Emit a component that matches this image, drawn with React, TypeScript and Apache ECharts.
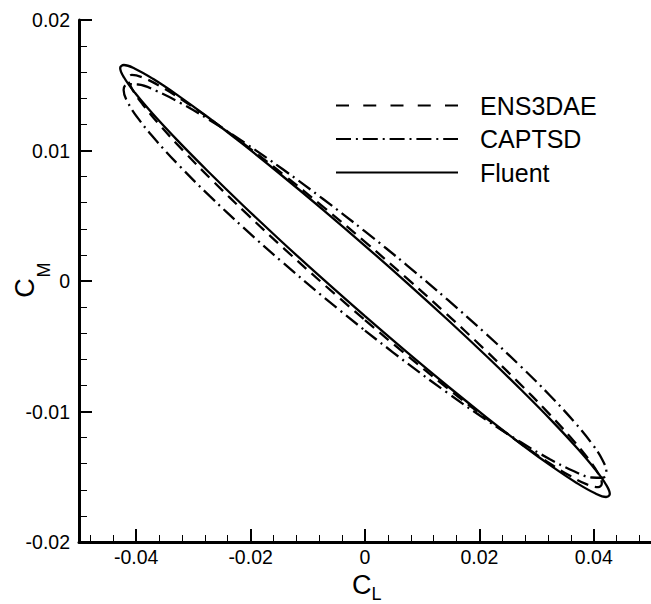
import React, { useEffect, useRef } from "react";
import * as echarts from "echarts";

// ---- data ----
const seriesNames = ["ENS3DAE", "CAPTSD", "Fluent"];

const ens3daeCL = [0, 0.00719, 0.01416, 0.0207, 0.02661, 0.03171, 0.03585, 0.0389, 0.04077, 0.0414, 0.04077, 0.0389, 0.03585, 0.03171, 0.02661, 0.0207, 0.01416, 0.00719, 0, -0.00719, -0.01416, -0.0207, -0.02661, -0.03171, -0.03585, -0.0389, -0.04077, -0.0414, -0.04077, -0.0389, -0.03585, -0.03171, -0.02661, -0.0207, -0.01416, -0.00719, 0];
const ens3daeCM = [-0.003, -0.005647, -0.008124, -0.010353, -0.012268, -0.013809, -0.014932, -0.015601, -0.015795, -0.01551, -0.014753, -0.013549, -0.011932, -0.009953, -0.007672, -0.005157, -0.002486, 0.000261, 0.003, 0.005647, 0.008124, 0.010353, 0.012268, 0.013809, 0.014932, 0.015601, 0.015795, 0.01551, 0.014753, 0.013549, 0.011932, 0.009953, 0.007672, 0.005157, 0.002486, -0.000261, -0.003];

const captsdCL = [0, 0.00733, 0.01443, 0.0211, 0.02713, 0.03233, 0.03655, 0.03966, 0.04156, 0.0422, 0.04156, 0.03966, 0.03655, 0.03233, 0.02713, 0.0211, 0.01443, 0.00733, 0, -0.00733, -0.01443, -0.0211, -0.02713, -0.03233, -0.03655, -0.03966, -0.04156, -0.0422, -0.04156, -0.03966, -0.03655, -0.03233, -0.02713, -0.0211, -0.01443, -0.00733, 0];
const captsdCM = [-0.0038, -0.006284, -0.008578, -0.010611, -0.012321, -0.013658, -0.014579, -0.015057, -0.015078, -0.01464, -0.013758, -0.012457, -0.010779, -0.008772, -0.006499, -0.004029, -0.001436, 0.0012, 0.0038, 0.006284, 0.008578, 0.010611, 0.012321, 0.013658, 0.014579, 0.015057, 0.015078, 0.01464, 0.013758, 0.012457, 0.010779, 0.008772, 0.006499, 0.004029, 0.001436, -0.0012, -0.0038];

const fluentCL = [0, 0.00743, 0.01464, 0.0214, 0.02751, 0.03279, 0.03707, 0.04022, 0.04215, 0.0428, 0.04215, 0.04022, 0.03707, 0.03279, 0.02751, 0.0214, 0.01464, 0.00743, 0, -0.00743, -0.01464, -0.0214, -0.02751, -0.03279, -0.03707, -0.04022, -0.04215, -0.0428, -0.04215, -0.04022, -0.03707, -0.03279, -0.02751, -0.0214, -0.01464, -0.00743, 0];
const fluentCM = [-0.0027, -0.005495, -0.008122, -0.010503, -0.012565, -0.014245, -0.015492, -0.016268, -0.016551, -0.01633, -0.015613, -0.014422, -0.012792, -0.010773, -0.008429, -0.005827, -0.003048, -0.000177, 0.0027, 0.005495, 0.008122, 0.010503, 0.012565, 0.014245, 0.015492, 0.016268, 0.016551, 0.01633, 0.015613, 0.014422, 0.012792, 0.010773, 0.008429, 0.005827, 0.003048, 0.000177, -0.0027];

const xMajorTicks = [-0.04, -0.02, 0, 0.02, 0.04];
const xMinorTicks = [-0.048, -0.044, -0.036, -0.032, -0.028, -0.024, -0.016, -0.012, -0.008, -0.004, 0.004, 0.008, 0.012, 0.016, 0.024, 0.028, 0.032, 0.036, 0.044, 0.048];
const xLabels = ["-0.04", "-0.02", "0", "0.02", "0.04"];

const pairs = (xs: number[], ys: number[]) => xs.map((x, i) => [x, ys[i]]);

export default function App() {
  const ref = useRef<HTMLDivElement>(null);
  useEffect(() => {
    const chart = echarts.init(ref.current!, null, { renderer: "svg" });
    const font = "Liberation Sans";
    const black = "#000";
    const lineW = 2.3;
    const dashed = [12, 7];
    const dashDot = [15, 5, 2, 5];
    chart.setOption({
      animation: false,
      backgroundColor: "#fff",
      grid: { left: 79, top: 20, width: 574.5, height: 522, containLabel: false },
      legend: {
        orient: "vertical",
        left: 335,
        top: 93,
        padding: 0,
        itemWidth: 122,
        itemHeight: 24,
        itemGap: 8.5,
        itemStyle: { opacity: 0, borderWidth: 0 },
        data: [
          { name: seriesNames[0], lineStyle: { type: [13, 14.25] } },
          { name: seriesNames[1], lineStyle: { type: [15, 4.9, 2, 4.9] } },
          { name: seriesNames[2] },
        ],
        textStyle: { fontSize: 25, lineHeight: 24, fontFamily: font, color: black, padding: [0, 0, 0, 17] },
      },
      xAxis: [
        {
          type: "value",
          min: -0.05,
          max: 0.05,
          position: "bottom",
          axisLine: { show: true, onZero: false, lineStyle: { color: black, width: 3 } },
          axisTick: { show: true, inside: true, length: 13, lineStyle: { color: black, width: 2 }, customValues: xMajorTicks },
          axisLabel: {
            customValues: xMajorTicks,
            color: black,
            fontSize: 19.5,
            fontFamily: font,
            margin: 5,
            formatter: (v: number) => xLabels[xMajorTicks.findIndex((t) => Math.abs(t - v) < 1e-9)] ?? String(v),
          },
          splitLine: { show: false },
        },
        {
          type: "value",
          min: -0.05,
          max: 0.05,
          position: "bottom",
          offset: 0,
          axisLine: { show: false, onZero: false },
          axisTick: { show: true, inside: true, length: 7, lineStyle: { color: black, width: 1 }, customValues: xMinorTicks },
          axisLabel: { show: false },
          splitLine: { show: false },
        },
      ],
      yAxis: {
        type: "value",
        min: -0.02,
        max: 0.02,
        interval: 0.01,
        axisLine: { show: true, onZero: false, lineStyle: { color: black, width: 3 } },
        axisTick: { show: true, inside: true, length: 13, lineStyle: { color: black, width: 2 } },
        minorTick: { show: true, splitNumber: 5, length: 8, lineStyle: { color: black, width: 1 } },
        axisLabel: { color: black, fontSize: 19.5, fontFamily: font, margin: 9 },
        splitLine: { show: false },
        minorSplitLine: { show: false },
      },
      graphic: [
        { type: "text", x: 352, y: 585, style: { text: "C", font: `27px "${font}"`, fill: black, align: "left", verticalAlign: "middle" } },
        { type: "text", x: 371.5, y: 594, style: { text: "L", font: `18px "${font}"`, fill: black, align: "left", verticalAlign: "middle" } },
        { type: "text", x: 24.5, y: 288, rotation: Math.PI / 2, style: { text: "C", font: `27px "${font}"`, fill: black, align: "center", verticalAlign: "middle" } },
        { type: "text", x: 43.5, y: 270, rotation: Math.PI / 2, style: { text: "M", font: `18px "${font}"`, fill: black, align: "center", verticalAlign: "middle" } },
      ],
      series: [
        {
          name: seriesNames[0],
          type: "line",
          xAxisIndex: 0,
          data: pairs(ens3daeCL, ens3daeCM),
          symbol: "none",
          smooth: 0.4,
          itemStyle: { color: black },
          lineStyle: { color: black, width: lineW, type: dashed },
        },
        {
          name: seriesNames[1],
          type: "line",
          xAxisIndex: 0,
          data: pairs(captsdCL, captsdCM),
          symbol: "none",
          smooth: 0.4,
          itemStyle: { color: black },
          lineStyle: { color: black, width: lineW, type: dashDot },
        },
        {
          name: seriesNames[2],
          type: "line",
          xAxisIndex: 0,
          data: pairs(fluentCL, fluentCM),
          symbol: "none",
          smooth: 0.4,
          itemStyle: { color: black },
          lineStyle: { color: black, width: lineW, type: "solid" },
        },
      ],
    });
    return () => chart.dispose();
  }, []);
  return <div ref={ref} style={{ position: "absolute", left: 0, top: 0, width: 651, height: 604, background: "#fff" }} />;
}
